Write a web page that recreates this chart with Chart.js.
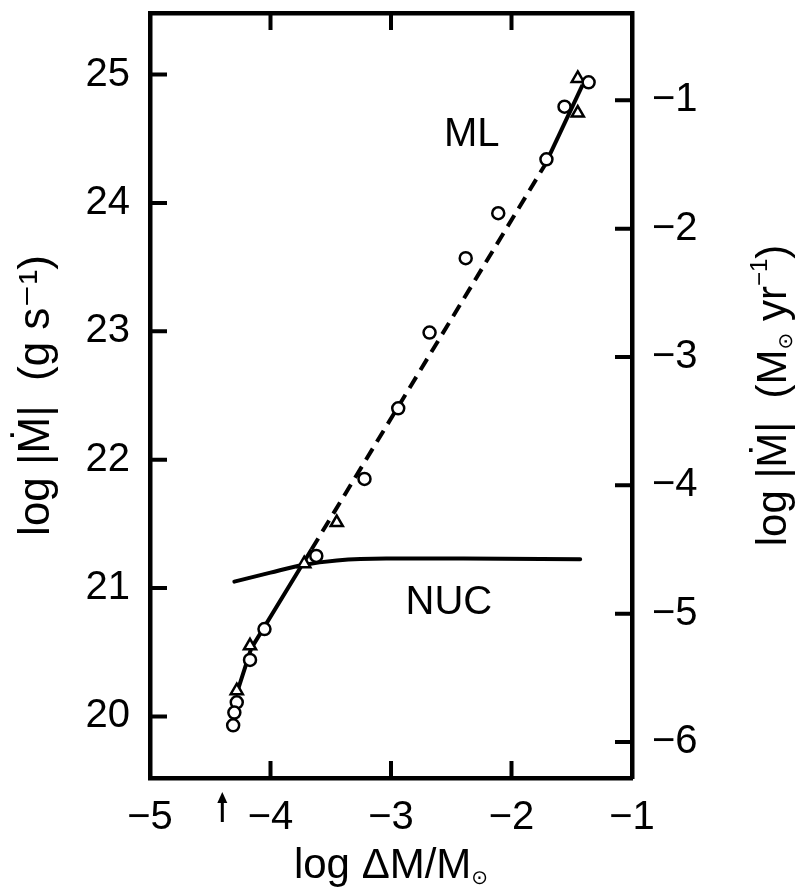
<!DOCTYPE html>
<html>
<head>
<meta charset="utf-8">
<script src="https://cdn.jsdelivr.net/npm/chart.js@4.4.1/dist/chart.umd.min.js"></script>
<style>
  html, body { margin: 0; padding: 0; background: #fff; }
  #wrap { width: 797px; height: 894px; }
</style>
</head>
<body>
<div id="wrap"><canvas id="mdot-chart" width="797" height="894"></canvas></div>
<script>
// open circles
var circleX = [-1.36, -1.56, -1.71, -2.11, -2.38, -2.68, -2.94, -3.22, -3.62, -4.05, -4.17, -4.28, -4.30, -4.31];
var circleY = [24.94, 24.75, 24.34, 23.92, 23.57, 22.99, 22.40, 21.85, 21.25, 20.68, 20.44, 20.11, 20.03, 19.93];
// open triangles
var triX = [-1.45, -1.45, -3.45, -3.72, -4.17, -4.28];
var triY = [24.97, 24.70, 21.51, 21.19, 20.55, 20.20];
// ML line: solid low part, dashed middle, solid top
var mlLowX = [-4.28, -4.16, -3.66];
var mlLowY = [20.18, 20.53, 21.30];
var mlDashX = [-3.66, -1.72];
var mlDashY = [21.30, 24.30];
var mlHighX = [-1.72, -1.41];
var mlHighY = [24.30, 24.92];
// NUC curve
var nucX = [-4.30, -4.00, -3.73, -3.45, -3.04, -2.40, -1.43];
var nucY = [21.05, 21.12, 21.18, 21.215, 21.23, 21.23, 21.225];

var xTicks = [-5, -4, -3, -2, -1];
var leftTicks = [20, 21, 22, 23, 24, 25];
var rightTicks = [-6, -5, -4, -3, -2, -1];
var curveLabels = ['ML', 'NUC'];
var curveLabelX = [-2.33, -2.52];
var curveLabelY = [24.53, 20.88];
var arrowX = [-4.40];

var X_MIN = -5, X_MAX = -1, Y_MIN = 19.52, Y_MAX = 25.48;
var LOG_GS_PER_MSUN_YR = 25.8;

function pts(xs, ys) {
	return xs.map(function (x, i) { return { x: x, y: ys[i] }; });
}
function minus(v) {
	return v < 0 ? '\u2212' + Math.abs(v) : String(v);
}
function noPad(s) {
	s.paddingTop = 0; s.paddingBottom = 0; s.paddingLeft = 0; s.paddingRight = 0;
}

var FONT = "'Liberation Sans', 'DejaVu Sans', sans-serif";

// draws a run of text pieces (sub/superscripts) centred on 0,0
function drawRun(ctx, parts) {
	var w = 0;
	parts.forEach(function (p) { ctx.font = p.f; w += ctx.measureText(p.t).width; });
	var cx = -w / 2;
	ctx.textAlign = 'left';
	ctx.textBaseline = 'middle';
	parts.forEach(function (p) {
		ctx.font = p.f;
		ctx.fillText(p.t, cx, p.dy);
		cx += ctx.measureText(p.t).width;
	});
}

var inwardTicks = {
	id: 'inwardTicks',
	afterDatasetsDraw: function (chart) {
		var ctx = chart.ctx, a = chart.chartArea, s = chart.scales;
		var len = 17;
		ctx.save();
		ctx.strokeStyle = '#000';
		ctx.lineWidth = 4;
		ctx.beginPath();
		xTicks.forEach(function (v) {
			if (v <= X_MIN || v >= X_MAX) return;
			var px = s.x.getPixelForValue(v);
			ctx.moveTo(px, a.bottom); ctx.lineTo(px, a.bottom - len);
			ctx.moveTo(px, a.top); ctx.lineTo(px, a.top + len);
		});
		leftTicks.forEach(function (v) {
			var py = s.y.getPixelForValue(v);
			ctx.moveTo(a.left, py); ctx.lineTo(a.left + len, py);
		});
		rightTicks.forEach(function (v) {
			var py = s.y2.getPixelForValue(v);
			ctx.moveTo(a.right, py); ctx.lineTo(a.right - len, py);
		});
		ctx.stroke();

		// curve names
		ctx.fillStyle = '#000';
		ctx.font = '40px ' + FONT;
		ctx.textAlign = 'center';
		ctx.textBaseline = 'middle';
		curveLabels.forEach(function (t, i) {
			ctx.fillText(t, s.x.getPixelForValue(curveLabelX[i]), s.y.getPixelForValue(curveLabelY[i]));
		});

		// arrow under the x axis
		arrowX.forEach(function (v) {
			var px = s.x.getPixelForValue(v);
			var y0 = a.bottom + 44, y1 = a.bottom + 14;
			ctx.beginPath();
			ctx.lineWidth = 3;
			ctx.moveTo(px, y0); ctx.lineTo(px, y1 + 6);
			ctx.stroke();
			ctx.beginPath();
			ctx.moveTo(px, y1); ctx.lineTo(px - 5, y1 + 11); ctx.lineTo(px + 5, y1 + 11);
			ctx.closePath(); ctx.fill();
		});

		// x axis title
		ctx.save();
		ctx.translate((a.left + a.right) / 2, 866);
		drawRun(ctx, [
			{ t: 'log \u0394M/M', f: '42px ' + FONT, dy: 0 },
			{ t: '\u2299', f: '20px ' + FONT, dy: 12 }
		]);
		ctx.restore();

		// right axis title, reading bottom to top
		ctx.translate(774, (a.top + a.bottom) / 2);
		ctx.rotate(-Math.PI / 2);
		drawRun(ctx, [
			{ t: 'log |\u1E40|  (M', f: '42px ' + FONT, dy: 0 },
			{ t: '\u2299', f: '20px ' + FONT, dy: 12 },
			{ t: ' yr', f: '42px ' + FONT, dy: 0 },
			{ t: '\u22121', f: '24px ' + FONT, dy: -14 },
			{ t: ')', f: '42px ' + FONT, dy: 0 }
		]);
		ctx.restore();
	}
};

window.addEventListener('load', function () {
	var ctx = document.getElementById('mdot-chart').getContext('2d');
	new Chart(ctx, {
		type: 'scatter',
		data: {
			datasets: [
				{
					label: 'circles',
					data: pts(circleX, circleY),
					pointStyle: 'circle',
					pointRadius: 6,
					pointBorderWidth: 2.5,
					pointBorderColor: '#000',
					pointBackgroundColor: '#fff',
					showLine: false
				},
				{
					label: 'triangles',
					data: pts(triX, triY),
					pointStyle: 'triangle',
					pointRadius: 7,
					pointBorderWidth: 2.5,
					pointBorderColor: '#000',
					pointBackgroundColor: '#fff',
					showLine: false
				},
				{
					label: 'ML low',
					data: pts(mlLowX, mlLowY),
					showLine: true, pointRadius: 0,
					borderColor: '#000', borderWidth: 4
				},
				{
					label: 'ML dashed',
					data: pts(mlDashX, mlDashY),
					showLine: true, pointRadius: 0,
					borderColor: '#000', borderWidth: 4,
					borderDash: [13, 8]
				},
				{
					label: 'ML high',
					data: pts(mlHighX, mlHighY),
					showLine: true, pointRadius: 0,
					borderColor: '#000', borderWidth: 4
				},
				{
					label: 'NUC',
					data: pts(nucX, nucY),
					showLine: true, pointRadius: 0,
					borderColor: '#000', borderWidth: 4,
					borderCapStyle: 'round',
					cubicInterpolationMode: 'monotone'
				}
			]
		},
		options: {
			responsive: false,
			animation: false,
			layout: { padding: { top: 13, left: 0, right: 0, bottom: 0 } },
			plugins: {
				legend: { display: false },
				tooltip: { enabled: false }
			},
			scales: {
				x: {
					type: 'linear', position: 'bottom',
					min: X_MIN, max: X_MAX,
					afterBuildTicks: function (s) { s.ticks = xTicks.map(function (v) { return { value: v }; }); },
					afterFit: function (s) { s.height = 116; noPad(s); },
					grid: { display: true, drawOnChartArea: false, drawTicks: false },
					border: { display: true, color: '#000', width: 4.5 },
					ticks: {
						color: '#000', padding: 16,
						font: { family: FONT, size: 40 },
						maxRotation: 0,
						callback: function (v) { return minus(v); }
					}
				},
				x2: {
					type: 'linear', position: 'top',
					min: X_MIN, max: X_MAX,
					afterFit: function (s) { s.height = 0; noPad(s); },
					grid: { display: true, drawOnChartArea: false, drawTicks: false },
					border: { display: true, color: '#000', width: 4.5 },
					ticks: { display: false }
				},
				y: {
					type: 'linear', position: 'left',
					min: Y_MIN, max: Y_MAX,
					afterBuildTicks: function (s) { s.ticks = leftTicks.map(function (v) { return { value: v }; }); },
					afterFit: function (s) { s.width = 150; noPad(s); },
					grid: { display: true, drawOnChartArea: false, drawTicks: false },
					border: { display: true, color: '#000', width: 4.5 },
					ticks: {
						color: '#000', padding: 20,
						font: { family: FONT, size: 40 }
					},
					title: {
						display: true,
						text: 'log |\u1E40|  (g s\u207B\u00B9)',
						color: '#000',
						font: { family: FONT, size: 44 },
						padding: { top: 10, bottom: 0 }
					}
				},
				y2: {
					type: 'linear', position: 'right',
					min: Y_MIN - LOG_GS_PER_MSUN_YR, max: Y_MAX - LOG_GS_PER_MSUN_YR,
					afterBuildTicks: function (s) { s.ticks = rightTicks.map(function (v) { return { value: v }; }); },
					afterFit: function (s) { s.width = 165; noPad(s); },
					grid: { display: true, drawOnChartArea: false, drawTicks: false },
					border: { display: true, color: '#000', width: 4.5 },
					ticks: {
						color: '#000', padding: 20,
						font: { family: FONT, size: 40 },
						callback: function (v) { return minus(v); }
					}
				}
			}
		},
		plugins: [inwardTicks]
	});
});
</script>
</body>
</html>
